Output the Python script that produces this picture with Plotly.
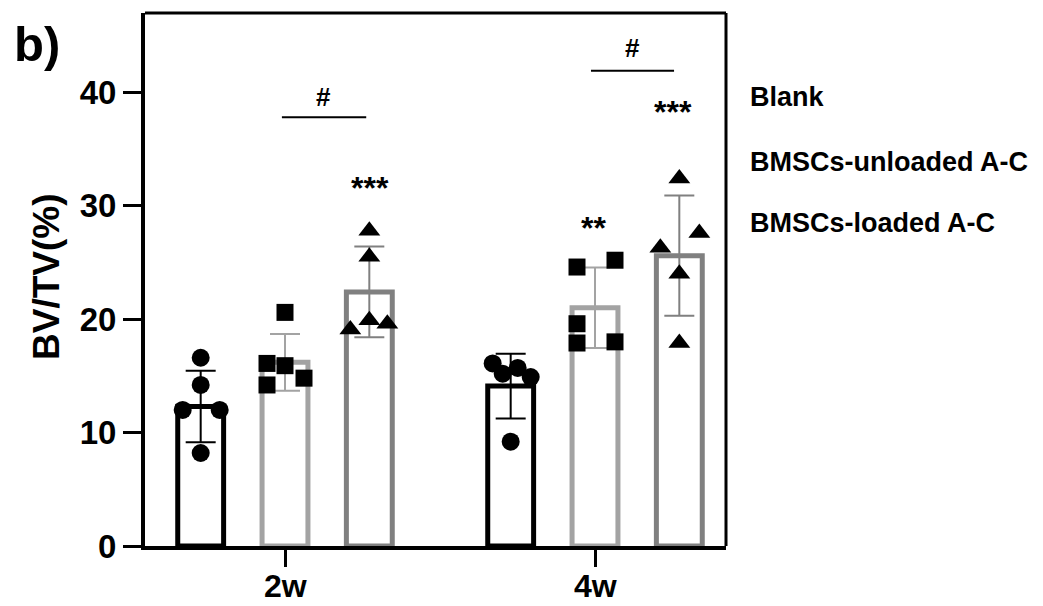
import plotly.graph_objects as go

# ---------------- data ----------------
categories = ["2w", "4w"]
groups = ["Blank", "BMSCs-unloaded A-C", "BMSCs-loaded A-C"]

blank_mean = [12.3, 14.1]
blank_sd = [3.15, 2.85]
unloaded_mean = [16.2, 21.0]
unloaded_sd = [2.5, 3.55]
loaded_mean = [22.4, 25.6]
loaded_sd = [4.0, 5.3]

blank_pts = [[16.6, 14.2, 12.0, 12.0, 8.2], [16.1, 15.2, 15.7, 14.9, 9.2]]
unloaded_pts = [[20.6, 16.1, 15.9, 14.8, 14.2], [24.6, 25.2, 19.6, 17.9, 18.0]]
loaded_pts = [[27.8, 25.5, 19.9, 19.1, 19.6], [32.4, 26.3, 27.6, 24.0, 17.9]]

y_ticks = [0, 10, 20, 30, 40]

# ---------------- layout constants ----------------
W, H = 1043, 606
L, R, T, B = 145, 726, 13, 546     # plot area in px
PX_PER_CAT = 310.0
X0_PX = 285.0
YMAX = 47.0
OFFS = [-0.272, 0.0, 0.272]
BAR_W = 0.148

# horizontal jitter of dots (px), per group per category
jit_blank = [[0, 0, -18, 19, 0], [-18, -8, 7, 20, 0]]
jit_unl = [[0, -18, 0, 19, -18], [-18, 20, -18, -18, 20]]
jit_load = [[0, 0, 0, -19, 18], [0, -19, 20, 0, 0]]

FONT = "Liberation Sans, Arial, sans-serif"
bar_colors = ["#000000", "#A3A3A3", "#808080"]
symbols = ["circle", "square", "triangle-up"]
sizes = [18, 17, 19]

means = [blank_mean, unloaded_mean, loaded_mean]
sds = [blank_sd, unloaded_sd, loaded_sd]
pts = [blank_pts, unloaded_pts, loaded_pts]
jits = [jit_blank, jit_unl, jit_load]

xr0 = (L - X0_PX) / PX_PER_CAT
xr1 = (R - X0_PX) / PX_PER_CAT


def px_to_paper_x(px):
    return (px - L) / (R - L)


def px_to_paper_y(py):
    return (B - py) / (B - T)


fig = go.Figure()

# bars
for g in range(3):
    fig.add_trace(go.Bar(
        x=[i + OFFS[g] for i in range(len(categories))],
        y=means[g],
        width=BAR_W,
        marker=dict(color="rgba(255,255,255,0)",
                    line=dict(color=bar_colors[g], width=5)),
        showlegend=False, hoverinfo="skip",
    ))

# error bars
for g in range(3):
    fig.add_trace(go.Scatter(
        x=[i + OFFS[g] for i in range(len(categories))],
        y=means[g],
        mode="markers",
        marker=dict(size=1, color="rgba(0,0,0,0)"),
        error_y=dict(type="data", array=sds[g], visible=True,
                     color=bar_colors[g] if g else "#000000",
                     thickness=2, width=15),
        showlegend=False, hoverinfo="skip",
    ))

# dots
for g in range(3):
    xs, ys = [], []
    for i in range(len(categories)):
        for v, j in zip(pts[g][i], jits[g][i]):
            xs.append(i + OFFS[g] + j / PX_PER_CAT)
            ys.append(v)
    fig.add_trace(go.Scatter(
        x=xs, y=ys, mode="markers",
        marker=dict(symbol=symbols[g], size=sizes[g], color="black",
                    line=dict(width=0)),
        name=groups[g], showlegend=False, hoverinfo="skip",
    ))

shapes = [
    # frame top and right
    dict(type="line", xref="paper", yref="paper", x0=0, x1=1, y0=1, y1=1,
         line=dict(color="black", width=3)),
    dict(type="line", xref="paper", yref="paper", x0=1, x1=1, y0=0, y1=1,
         line=dict(color="black", width=3)),
    # significance lines
    dict(type="line", xref="x", yref="y", x0=-0.01, x1=0.262, y0=37.8, y1=37.8,
         line=dict(color="black", width=2)),
    dict(type="line", xref="x", yref="y", x0=1 - 0.013, x1=1 + 0.255, y0=41.9, y1=41.9,
         line=dict(color="black", width=2)),
]

annotations = []
# significance marks
for txt, xpx, ypx, sz in [("#", 323, 97, 26), ("#", 632, 48, 26),
                          ("***", 370, 188, 32), ("**", 593, 228, 32),
                          ("***", 673, 112, 32)]:
    annotations.append(dict(text=txt, xref="paper", yref="paper",
                            x=px_to_paper_x(xpx), y=px_to_paper_y(ypx),
                            xanchor="center", yanchor="middle", showarrow=False,
                            font=dict(family=FONT, size=sz, color="black", weight="bold")))
# x category labels
for i, c in enumerate(categories):
    annotations.append(dict(text=c, xref="x", yref="paper",
                            x=i, y=px_to_paper_y(586),
                            xanchor="center", yanchor="middle", showarrow=False,
                            font=dict(family=FONT, size=32, color="black", weight="bold")))
# legend labels
for txt, ypx in zip(groups, [97, 162, 223]):
    annotations.append(dict(text=txt, xref="paper", yref="paper",
                            x=px_to_paper_x(748), y=px_to_paper_y(ypx),
                            xanchor="left", yanchor="middle", showarrow=False,
                            font=dict(family=FONT, size=27, color="black", weight="bold")))
# panel letter
annotations.append(dict(text="b)", xref="paper", yref="paper",
                        x=px_to_paper_x(12), y=px_to_paper_y(44),
                        xanchor="left", yanchor="middle", showarrow=False,
                        font=dict(family=FONT, size=49, color="black", weight="bold")))
# y title
annotations.append(dict(text="BV/TV(%)", xref="paper", yref="paper",
                        x=px_to_paper_x(46), y=px_to_paper_y(277),
                        xanchor="center", yanchor="middle", showarrow=False,
                        textangle=-90,
                        font=dict(family=FONT, size=37, color="black", weight="bold")))

fig.update_layout(
    width=W, height=H,
    margin=dict(l=L, r=W - R, t=T, b=H - B, autoexpand=False),
    paper_bgcolor="white", plot_bgcolor="white",
    barmode="overlay",
    showlegend=False,
    shapes=shapes,
    annotations=annotations,
    xaxis=dict(range=[xr0, xr1], tickmode="array", tickvals=[0, 1],
               showticklabels=False, ticks="outside", ticklen=17, tickwidth=3,
               tickcolor="black", showline=True, linecolor="black", linewidth=4,
               showgrid=False, zeroline=False),
    yaxis=dict(range=[0, YMAX], tickmode="array", tickvals=y_ticks,
               ticks="outside", ticklen=18, tickwidth=3, tickcolor="black",
               showline=True, linecolor="black", linewidth=4,
               showgrid=False, zeroline=False,
               tickfont=dict(family=FONT, size=33, color="black", weight="bold")),
)

fig.write_html("out.html")
